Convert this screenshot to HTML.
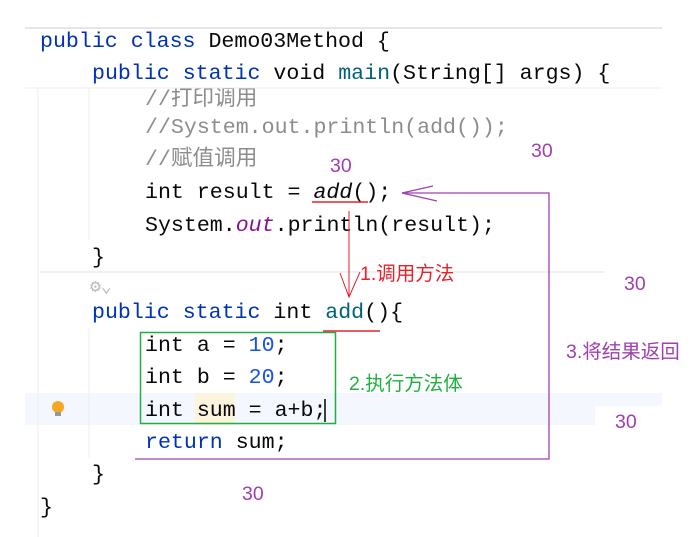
<!DOCTYPE html>
<html><head><meta charset="utf-8"><style>
html,body{margin:0;padding:0;background:#fff;width:700px;height:537px;overflow:hidden}
svg{display:block}
text{font-family:"Liberation Mono","Noto Sans CJK SC",monospace;font-size:21.6px;fill:#080808;white-space:pre}
.k{fill:#0033b3}.f{fill:#00627a}.n{fill:#1750eb}.c{fill:#8c8c8c}.o{fill:#871094;font-style:italic}
.lab{font-family:"Liberation Sans","Noto Sans CJK SC",sans-serif;font-size:19.5px}
.p{fill:#a040b0}
</style></head><body>
<svg width="700" height="537" xmlns="http://www.w3.org/2000/svg">
<rect x="25" y="393" width="637" height="13" fill="#f4f7fe"/>
<rect x="25" y="405" width="570" height="20" fill="#f4f7fe"/>
<rect x="195" y="393" width="39" height="32" fill="#fcf3dc"/>
<text x="145" y="105" class="c">//打印调用</text>
<rect x="0" y="29" width="700" height="59" fill="#fff"/>
<line x1="25" y1="28" x2="662" y2="28" stroke="#e6e6e6" stroke-width="2"/>
<line x1="25" y1="88" x2="662" y2="88" stroke="#ececec"/>
<line x1="40" y1="272" x2="605" y2="272" stroke="#e3e3e3"/>
<line x1="38" y1="88" x2="38" y2="537" stroke="#eeeeee"/>
<line x1="89" y1="88" x2="89" y2="240" stroke="#eeeeee"/>
<line x1="89" y1="328" x2="89" y2="458" stroke="#eeeeee"/>
<text x="40" y="47"><tspan class="k">public class </tspan>Demo03Method {</text>
<text x="92" y="79"><tspan class="k">public static </tspan>void <tspan class="f">main</tspan>(String[] args) {</text>
<text x="145" y="133" class="c">//System.out.println(add());</text>
<text x="145" y="165" class="c">//赋值调用</text>
<text x="145" y="198">int result = <tspan font-style="italic">add</tspan>();</text>
<text x="145" y="231">System.<tspan class="o">out</tspan>.println(result);</text>
<text x="92" y="263">}</text>
<text x="92" y="318"><tspan class="k">public static </tspan>int <tspan class="f">add</tspan>(){</text>
<text x="145" y="351">int a = <tspan class="n">10</tspan>;</text>
<text x="145" y="383">int b = <tspan class="n">20</tspan>;</text>
<text x="145" y="416">int sum = a+b;</text>
<text x="145" y="448"><tspan class="k">return</tspan> sum;</text>
<text x="92" y="480">}</text>
<text x="40" y="513">}</text>
<line x1="325" y1="399" x2="325" y2="422" stroke="#000" stroke-width="1.5"/>
<circle cx="58" cy="407" r="6" fill="#f5a623"/><rect x="55" y="412" width="6" height="4" fill="#999"/>
<text x="90" y="292" style="font-size:18px;fill:#bbb">⚙⌄</text>
<line x1="312" y1="202" x2="368" y2="202" stroke="#e8202a" stroke-width="1.5"/>
<line x1="323" y1="331" x2="380" y2="331" stroke="#e8202a" stroke-width="1.5"/>
<line x1="349" y1="211" x2="349" y2="297" stroke="#e8202a"/>
<polyline points="340,273 349,297 360,272" fill="none" stroke="#e8202a"/>
<text x="360" y="280" class="lab" style="fill:#e8202a">1.调用方法</text>
<rect x="140.5" y="332.5" width="195" height="91" fill="none" stroke="#1fb040" stroke-width="1.5"/>
<text x="349" y="390" class="lab" style="fill:#1fb040">2.执行方法体</text>
<polyline points="135,459 549,459 549,193 402,193" fill="none" stroke="#a040b0" stroke-width="1.3"/>
<polyline points="433,186 402,193 437,201" fill="none" stroke="#a040b0" stroke-width="1.3"/>
<text x="566" y="358" class="lab p">3.将结果返回</text>
<text x="330" y="172" class="lab p">30</text>
<text x="531" y="157" class="lab p">30</text>
<text x="624" y="290" class="lab p">30</text>
<text x="615" y="428" class="lab p">30</text>
<text x="242" y="500" class="lab p">30</text>
</svg>
</body></html>
